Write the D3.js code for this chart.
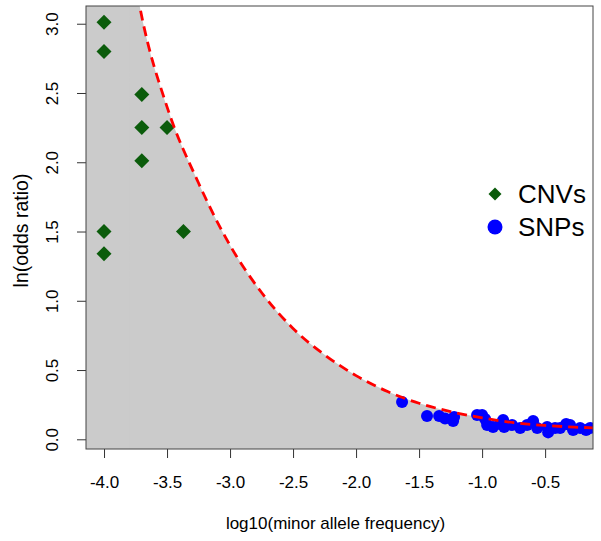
<!DOCTYPE html>
<html>
<head>
<meta charset="utf-8">
<script src="https://cdn.jsdelivr.net/npm/d3@7"></script>
<style>
  body { margin: 0; background: #fff; }
  svg { display: block; font-family: "Liberation Sans", Arial, Helvetica, sans-serif; }
  .axis text { font-size: 17px; fill: #000; }
  .axis line { stroke: #333; }
  .axis-title { font-size: 17px; fill: #000; }
  .y-title { font-size: 19.5px; }
  .legend-label { font-size: 26px; fill: #000; }
</style>
</head>
<body>
<svg id="chart"></svg>
<script>
// tick values
const xTicks = [-4.0, -3.5, -3.0, -2.5, -2.0, -1.5, -1.0, -0.5];
const yTicks = [0.0, 0.5, 1.0, 1.5, 2.0, 2.5, 3.0];

// CNVs (log10 MAF, ln OR)
const cnvX = [-4.0, -4.0, -3.7, -3.7, -3.5, -3.7, -4.0, -3.37, -4.0];
const cnvY = [3.01, 2.80, 2.49, 2.25, 2.25, 2.01, 1.50, 1.50, 1.34];

// SNPs
const snpX = [-1.635, -1.437, -1.341, -1.294, -1.222, -1.230, -1.040, -1.000, -0.976, -0.960,
              -0.913, -0.857, -0.833, -0.825, -0.762, -0.698, -0.643, -0.595, -0.563, -0.484,
              -0.476, -0.421, -0.381, -0.333, -0.302, -0.278, -0.222, -0.175, -0.143];
const snpY = [0.269, 0.168, 0.168, 0.150, 0.161, 0.132, 0.175, 0.175, 0.146, 0.103,
              0.089, 0.110, 0.139, 0.089, 0.103, 0.082, 0.103, 0.132, 0.082, 0.089,
              0.050, 0.082, 0.082, 0.110, 0.103, 0.067, 0.082, 0.067, 0.082];

// detection threshold curve
const curveX = [-3.8, -3.7, -3.5, -3.25, -3.0, -2.75, -2.5, -2.25, -2.0, -1.75, -1.5, -1.25, -1.0, -0.75, -0.5, -0.27, -0.12];
const curveY = [3.55, 3.05, 2.40, 1.85, 1.40, 1.06, 0.80, 0.61, 0.46, 0.345, 0.26, 0.20, 0.155, 0.12, 0.10, 0.088, 0.083];

const legendLabels = ['CNVs', 'SNPs'];

class ThresholdPlot {

  constructor(_config) {
    this.config = {
      parentElement: _config.parentElement,
      containerWidth: _config.containerWidth || 601,
      containerHeight: _config.containerHeight || 541,
      margin: _config.margin || {top: 6, right: 8, bottom: 92, left: 86}
    };
    this.initVis();
  }

  initVis() {
    let vis = this;
    vis.width = vis.config.containerWidth - vis.config.margin.left - vis.config.margin.right;
    vis.height = vis.config.containerHeight - vis.config.margin.top - vis.config.margin.bottom;

    // R style 4% padding around the data range
    vis.xScale = d3.scaleLinear()
        .domain([-4.143, -0.12])
        .range([0, vis.width]);

    vis.yScale = d3.scaleLinear()
        .domain([-0.07, 3.128])
        .range([vis.height, 0]);

    vis.svg = d3.select(vis.config.parentElement)
        .attr('width', vis.config.containerWidth)
        .attr('height', vis.config.containerHeight);

    vis.chart = vis.svg.append('g')
        .attr('transform', `translate(${vis.config.margin.left},${vis.config.margin.top})`);

    vis.chart.append('clipPath')
        .attr('id', 'plot-clip')
      .append('rect')
        .attr('width', vis.width)
        .attr('height', vis.height);

    vis.plotArea = vis.chart.append('g')
        .attr('clip-path', 'url(#plot-clip)');
  }

  renderVis() {
    let vis = this;
    const curve = curveX.map((d, i) => ({x: d, y: curveY[i]}));
    const cnvs = cnvX.map((d, i) => ({x: d, y: cnvY[i]}));
    const snps = snpX.map((d, i) => ({x: d, y: snpY[i]}));

    // gray region below the threshold; the left strip overlaps the area by 1px so no seam shows
    vis.plotArea.append('rect')
        .attr('x', 0)
        .attr('y', 0)
        .attr('width', vis.xScale(curveX[0]) + 1)
        .attr('height', vis.height)
        .attr('fill', '#cbcbcb');

    const area = d3.area()
        .x(d => vis.xScale(d.x))
        .y0(vis.height)
        .y1(d => vis.yScale(d.y))
        .curve(d3.curveMonotoneX);

    vis.plotArea.append('path')
        .datum(curve)
        .attr('d', area)
        .attr('fill', '#cbcbcb');

    const diamond = s => `M0,${-s}L${s},0L0,${s}L${-s},0Z`;

    vis.plotArea.selectAll('.snp')
        .data(snps)
      .join('circle')
        .attr('class', 'snp')
        .attr('cx', d => vis.xScale(d.x))
        .attr('cy', d => vis.yScale(d.y))
        .attr('r', 6)
        .attr('fill', '#0000ff');

    vis.plotArea.selectAll('.cnv')
        .data(cnvs)
      .join('path')
        .attr('class', 'cnv')
        .attr('transform', d => `translate(${vis.xScale(d.x)},${vis.yScale(d.y)})`)
        .attr('d', diamond(7.5))
        .attr('fill', '#0b5c0b');

    const line = d3.line()
        .x(d => vis.xScale(d.x))
        .y(d => vis.yScale(d.y))
        .curve(d3.curveMonotoneX);

    vis.plotArea.append('path')
        .datum(curve)
        .attr('d', line)
        .attr('fill', 'none')
        .attr('stroke', '#ff0000')
        .attr('stroke-width', 2.8)
        .attr('stroke-dasharray', '10,6');

    // axes
    vis.xAxis = d3.axisBottom(vis.xScale)
        .tickValues(xTicks)
        .tickSize(9)
        .tickPadding(18)
        .tickFormat(d => d.toFixed(1));

    vis.yAxis = d3.axisLeft(vis.yScale)
        .tickValues(yTicks)
        .tickSize(9)
        .tickFormat(d => d.toFixed(1));

    vis.chart.append('g')
        .attr('class', 'axis x-axis')
        .attr('transform', `translate(0,${vis.height})`)
        .call(vis.xAxis)
        .call(g => g.select('.domain').remove())
        .call(g => g.selectAll('text').attr('font-family', null).attr('font-size', null));

    vis.chart.append('g')
        .attr('class', 'axis y-axis')
        .call(vis.yAxis)
        .call(g => g.select('.domain').remove())
        .call(g => g.selectAll('text')
            .attr('font-family', null).attr('font-size', null)
            .attr('x', 0).attr('dy', null)
            .attr('text-anchor', 'middle')
            .attr('transform', 'translate(-28,0) rotate(-90)'));

    // plot box
    vis.chart.append('rect')
        .attr('width', vis.width)
        .attr('height', vis.height)
        .attr('fill', 'none')
        .attr('stroke', '#444')
        .attr('stroke-width', 1);

    // axis titles
    vis.chart.append('text')
        .attr('class', 'axis-title')
        .attr('x', vis.width / 2 - 4)
        .attr('y', vis.height + 80)
        .attr('text-anchor', 'middle')
        .text('log10(minor allele frequency)');

    vis.svg.append('text')
        .attr('class', 'axis-title y-title')
        .attr('transform', `translate(28,${vis.config.margin.top + vis.height / 2 + 3}) rotate(-90)`)
        .attr('text-anchor', 'middle')
        .text('ln(odds ratio)');

    // legend (no box)
    const legend = vis.svg.append('g')
        .attr('transform', 'translate(495,194)');

    const items = legend.selectAll('.legend-item')
        .data(legendLabels)
      .join('g')
        .attr('class', 'legend-item')
        .attr('transform', (d, i) => `translate(0,${i * 33})`);

    items.filter((d, i) => i === 0).append('path')
        .attr('d', diamond(6.5))
        .attr('fill', '#0b5c0b');

    items.filter((d, i) => i === 1).append('circle')
        .attr('r', 7.5)
        .attr('fill', '#0000ff');

    items.append('text')
        .attr('class', 'legend-label')
        .attr('x', 23)
        .attr('dy', '0.35em')
        .text(d => d);
  }
}

const plot = new ThresholdPlot({parentElement: '#chart'});
plot.renderVis();
</script>
</body>
</html>
